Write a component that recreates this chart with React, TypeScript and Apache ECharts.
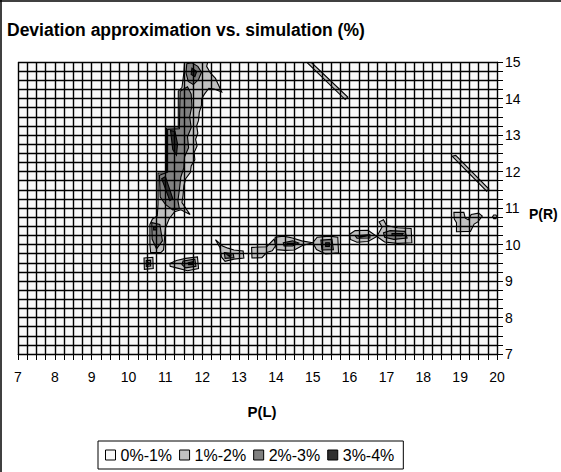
import React, { useEffect, useRef } from "react";
import * as echarts from "echarts";

type Pt = [number, number];

const FONT = "'Liberation Sans', Arial, sans-serif";
const titleText = "Deviation approximation vs. simulation (%)";
const xName = "P(L)";
const yName = "P(R)";
const xRange = [7, 20];
const yRange = [7, 15];
const levelNames = ["0%-1%", "1%-2%", "2%-3%", "3%-4%"];
const levelColors = ["#f9f9f9", "#c0c0c0", "#808080", "#303030"];

// ---- 1%-2% regions (P(L), P(R)) ----
const mainBand1: Pt[] = [[11.52,15.0],[12.15,15.0],[12.12,14.88],[12.22,14.7],[12.36,14.55],[12.45,14.35],[12.53,14.18],[12.32,14.26],[12.18,14.28],[12.06,14.12],[11.98,13.98],[11.98,13.82],[11.92,13.62],[11.9,13.4],[11.85,13.25],[11.88,13.05],[11.82,12.88],[11.86,12.7],[11.78,12.52],[11.8,12.32],[11.7,12.15],[11.68,11.98],[11.55,11.8],[11.5,11.6],[11.48,11.35],[11.45,11.15],[11.67,10.82],[11.42,10.95],[11.25,10.9],[11.1,10.7],[11.0,10.45],[10.98,10.2],[10.95,9.85],[10.88,9.78],[10.6,9.78],[10.58,10.0],[10.58,10.55],[10.65,10.7],[10.78,10.78],[10.8,11.1],[10.8,11.96],[11.03,11.96],[11.03,13.19],[11.35,13.19],[11.35,14.2],[11.45,14.3],[11.5,14.7]];
const smallSquare1: Pt[] = [[10.42,9.63],[10.66,9.65],[10.67,9.34],[10.43,9.32]];
const flatBlob1: Pt[] = [[11.12,9.48],[11.3,9.56],[11.55,9.62],[11.87,9.66],[11.9,9.34],[11.6,9.28],[11.3,9.36],[11.13,9.4]];
const blobA1: Pt[] = [[12.36,10.13],[12.42,10.08],[12.55,9.96],[12.7,9.9],[12.86,9.85],[13.11,9.82],[13.13,9.63],[12.86,9.6],[12.62,9.54],[12.52,9.66],[12.48,9.92]];
const blobB1: Pt[] = [[13.34,9.92],[13.55,9.93],[13.75,9.94],[13.95,10.15],[14.0,9.98],[13.9,9.83],[13.75,9.78],[13.62,9.64],[13.35,9.63]];
const blobC1: Pt[] = [[13.98,10.2],[14.2,10.23],[14.45,10.18],[14.7,10.1],[15.0,10.05],[14.72,9.97],[14.5,9.85],[14.25,9.84],[14.02,9.86],[13.98,10.0]];
const blobD1: Pt[] = [[15.0,10.05],[15.12,10.2],[15.45,10.23],[15.68,10.2],[15.7,9.77],[15.35,9.74],[15.1,9.86]];
const blobE1: Pt[] = [[16.0,10.28],[16.15,10.38],[16.5,10.39],[16.74,10.22],[16.5,10.08],[16.2,10.06],[16.02,10.14]];
const blobF1: Pt[] = [[16.74,10.22],[16.88,10.48],[16.8,10.62],[16.92,10.68],[17.0,10.52],[17.3,10.46],[17.67,10.44],[17.69,10.05],[17.3,10.03],[16.95,10.07]];
const blobG1: Pt[] = [[18.83,10.88],[19.1,10.88],[19.14,10.72],[19.22,10.68],[19.3,10.82],[19.5,10.86],[19.6,10.78],[19.48,10.62],[19.38,10.56],[19.28,10.36],[18.9,10.35],[18.9,10.6],[18.84,10.7]];
const dotG1: Pt[] = [[20.0,10.76],[19.97,10.81],[19.91,10.81],[19.88,10.76],[19.91,10.71],[19.97,10.71]];
const diagTop1: Pt[] = [[14.83,15.0],[14.95,15.0],[15.95,14.04],[15.88,13.97]];
const diagRight1: Pt[] = [[18.78,12.42],[18.88,12.44],[19.78,11.52],[19.72,11.46]];

// ---- 2%-3% regions ----
const topBlob2: Pt[] = [[11.58,14.95],[11.72,14.98],[11.88,14.88],[11.98,14.72],[11.9,14.52],[11.76,14.38],[11.62,14.47],[11.56,14.7]];
const mainBand2: Pt[] = [[11.4,14.2],[11.6,14.32],[11.7,14.12],[11.72,13.8],[11.66,13.5],[11.7,13.2],[11.6,12.95],[11.63,12.65],[11.52,12.4],[11.5,12.1],[11.42,11.85],[11.38,11.5],[11.34,11.2],[11.38,10.98],[11.2,10.95],[11.0,11.1],[10.86,11.3],[10.84,11.9],[11.06,11.98],[11.06,13.15],[11.38,13.17]];
const lowerBlob2: Pt[] = [[10.63,10.6],[10.85,10.55],[10.92,10.1],[10.76,9.88],[10.64,10.15]];
const smallSquare2: Pt[] = [[10.48,9.56],[10.6,9.57],[10.6,9.41],[10.48,9.4]];
const flatBlob2: Pt[] = [[11.48,9.55],[11.8,9.6],[11.83,9.4],[11.55,9.36],[11.45,9.45]];
const blobA2: Pt[] = [[12.6,9.78],[12.84,9.75],[12.86,9.64],[12.62,9.62]];
const blobC2: Pt[] = [[14.2,10.05],[14.45,10.1],[14.62,10.04],[14.45,9.96],[14.22,9.96]];
const blobD2: Pt[] = [[15.22,10.12],[15.52,10.14],[15.56,9.86],[15.25,9.85]];
const blobE2: Pt[] = [[16.15,10.24],[16.55,10.27],[16.55,10.18],[16.2,10.17]];
const blobF2: Pt[] = [[16.92,10.32],[17.1,10.38],[17.5,10.36],[17.56,10.18],[17.2,10.14],[16.95,10.2]];

// ---- 3%-4% regions ----
const topBlob3: Pt[] = [[11.72,14.83],[11.85,14.74],[11.8,14.6],[11.7,14.66]];
const bandUpper3: Pt[] = [[11.14,13.12],[11.26,13.1],[11.33,12.75],[11.3,12.45],[11.2,12.6]];
const bandLower3: Pt[] = [[10.9,11.8],[11.0,11.86],[11.2,11.26],[11.12,11.2]];
const lowerBlob3: Pt[] = [[10.68,10.48],[10.76,10.48],[10.76,10.4],[10.68,10.4]];
const smallSquare3: Pt[] = [[10.52,9.5],[10.56,9.5],[10.56,9.46],[10.52,9.46]];
const flatBlob3: Pt[] = [[11.62,9.5],[11.75,9.53],[11.76,9.45],[11.63,9.45]];
const blobA3: Pt[] = [[12.68,9.72],[12.78,9.71],[12.74,9.67]];
const blobC3: Pt[] = [[14.3,10.03],[14.55,10.04],[14.3,9.99]];
const blobD3: Pt[] = [[15.35,10.05],[15.45,10.05],[15.45,9.95],[15.35,9.95]];
const blobE3: Pt[] = [[16.25,10.23],[16.48,10.24],[16.3,10.2]];
const blobF3: Pt[] = [[17.15,10.3],[17.45,10.3],[17.4,10.24],[17.15,10.25]];

const level1: Pt[][] = [mainBand1, smallSquare1, flatBlob1, blobA1, blobB1, blobC1, blobD1, blobE1, blobF1, blobG1, dotG1, diagTop1, diagRight1];
const level2: Pt[][] = [topBlob2, mainBand2, lowerBlob2, smallSquare2, flatBlob2, blobA2, blobC2, blobD2, blobE2, blobF2];
const level3: Pt[][] = [topBlob3, bandUpper3, bandLower3, lowerBlob3, smallSquare3, flatBlob3, blobA3, blobC3, blobD3, blobE3, blobF3];
const levels: Pt[][][] = [[], level1, level2, level3];

function makeSeries(idx: number): any {
  const polys = levels[idx];
  const fill = levelColors[idx];
  return {
    type: "custom",
    name: levelNames[idx],
    clip: true,
    z: 2 + idx * 0.01,
    itemStyle: { color: fill, borderColor: "#000", borderWidth: 1 },
    data: polys.map((p) => p[0]),
    renderItem: (params: any, api: any) => {
      const poly = polys[params.dataIndex];
      const points = poly.map((p) => api.coord(p));
      return {
        type: "polygon",
        shape: { points },
        style: { fill, stroke: "#000", lineWidth: 1.1 },
      };
    },
  };
}

export default function App() {
  const ref = useRef<HTMLDivElement>(null);
  useEffect(() => {
    document.body.style.margin = "0";
    if (!ref.current) return;
    const chart = echarts.init(ref.current, null, { renderer: "svg" });
    const axisCommon = {
      type: "value",
      interval: 1,
      z: 5,
      axisLine: { show: true, lineStyle: { color: "#000", width: 1 } },
      axisTick: { show: true, length: 6, lineStyle: { color: "#000", width: 1 } },
      minorTick: { show: true, splitNumber: 4, length: 6, lineStyle: { color: "#000", width: 1 } },
      splitLine: { show: true, lineStyle: { color: "#000", width: 1.4 } },
      minorSplitLine: { show: true, lineStyle: { color: "#000", width: 1.4 } },
    };
    chart.setOption({
      animation: false,
      backgroundColor: "#ffffff",
      title: {
        text: titleText,
        left: 7,
        top: 21,
        padding: 0,
        textStyle: { fontSize: 17.5, fontWeight: "bold", color: "#000", fontFamily: FONT },
      },
      legend: {
        data: levelNames,
        left: 98,
        top: 441,
        orient: "horizontal",
        icon: "rect",
        itemWidth: 10,
        itemHeight: 10,
        itemGap: 7,
        padding: [6, 9, 6, 7],
        borderColor: "#000",
        borderWidth: 1,
        selectedMode: false,
        itemStyle: { borderColor: "#000", borderWidth: 1 },
        textStyle: { fontSize: 16, color: "#000", fontFamily: FONT },
      },
      grid: {
        left: 18,
        right: 64,
        top: 62,
        bottom: 118,
        show: true,
        backgroundColor: levelColors[0],
        borderWidth: 0,
      },
      xAxis: {
        ...axisCommon,
        min: xRange[0],
        max: xRange[1],
        position: "bottom",
        axisLabel: { color: "#000", fontSize: 14, margin: 16, fontFamily: FONT },
      },
      yAxis: {
        ...axisCommon,
        min: yRange[0],
        max: yRange[1],
        position: "right",
        axisLabel: { color: "#000", fontSize: 14, margin: 8, fontFamily: FONT },
      },
      graphic: [
        { type: "line", shape: { x1: 0, y1: 1, x2: 561, y2: 1 }, style: { stroke: "#000", lineWidth: 1.5 } },
        { type: "line", shape: { x1: 1, y1: 0, x2: 1, y2: 472 }, style: { stroke: "#000", lineWidth: 1.5 } },
        {
          type: "text",
          x: 262,
          y: 411,
          style: { text: xName, fill: "#000", font: `bold 15px ${FONT}`, textAlign: "center", textVerticalAlign: "middle" },
        },
        {
          type: "text",
          x: 529,
          y: 214,
          style: { text: yName, fill: "#000", font: `bold 14px ${FONT}`, textAlign: "left", textVerticalAlign: "middle" },
        },
      ],
      series: [0, 1, 2, 3].map(makeSeries),
    });
    return () => chart.dispose();
  }, []);
  return <div ref={ref} style={{ width: 561, height: 472 }} />;
}
